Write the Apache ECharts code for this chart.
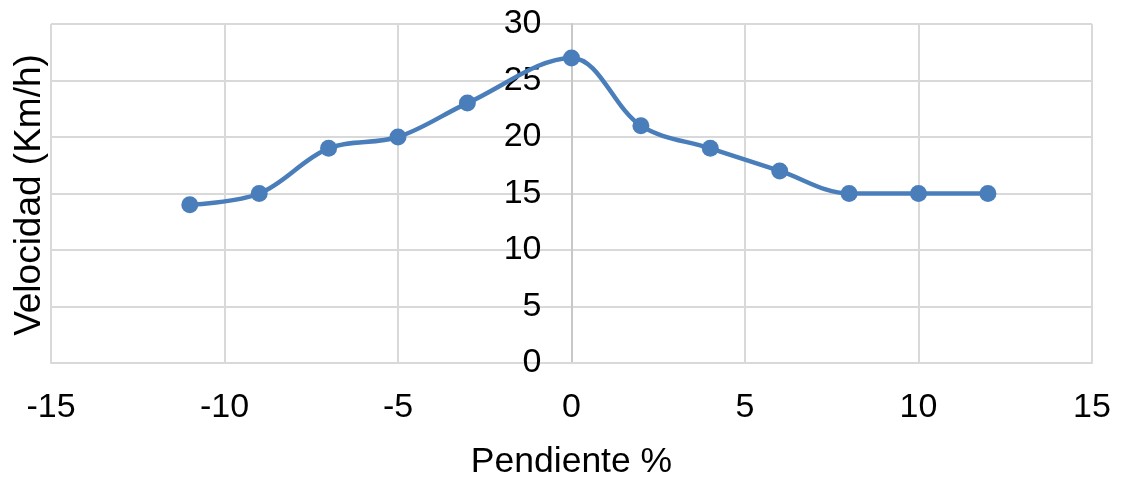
<!DOCTYPE html>
<html><head><meta charset="utf-8">
<script src="https://cdn.jsdelivr.net/npm/echarts@6/dist/echarts.min.js"></script>
<style>html,body{margin:0;padding:0;background:#fff}#c{width:1121px;height:482px}</style>
</head><body><div id="c"></div>
<script>
const pendiente = [-11, -9, -7, -5, -3, 0, 2, 4, 6, 8, 10, 12];
const velocidad = [14, 15, 19, 20, 23, 27, 21, 19, 17, 15, 15, 15];
const xTitle = 'Pendiente %';
const yTitle = 'Velocidad (Km/h)';

const W = 1121, L = 51, R = 29;
const xMin = -15, xMax = 15;
const x0 = L + (W - L - R) * (0 - xMin) / (xMax - xMin);

const chart = echarts.init(document.getElementById('c'));
const font = 'Liberation Sans, Arial, sans-serif';
chart.setOption({
  animation: false,
  grid: {left: L, right: R, top: 24, bottom: 119, containLabel: false, outerBoundsMode: 'none'},
  xAxis: {
    type: 'value', min: xMin, max: xMax, interval: 5,
    name: xTitle, nameLocation: 'middle', nameGap: 81,
    nameTextStyle: {fontFamily: font, fontSize: 35.5, color: '#000'},
    axisLine: {show: true, onZero: false, lineStyle: {color: '#d9d9d9', width: 2}},
    axisTick: {show: false},
    axisLabel: {fontFamily: font, fontSize: 34, color: '#000', margin: 28},
    splitLine: {show: true, lineStyle: {color: '#d9d9d9', width: 2}}
  },
  yAxis: {
    type: 'value', min: 0, max: 30, interval: 5,
    position: 'left', offset: -(x0 - L),
    axisLine: {show: true, onZero: false, lineStyle: {color: '#c8c8c8', width: 2}},
    axisTick: {show: false},
    axisLabel: {fontFamily: font, fontSize: 34, color: '#000', margin: 30},
    splitLine: {show: true, lineStyle: {color: '#d9d9d9', width: 2}}
  },
  graphic: [{
    type: 'text',
    x: 30, y: 195,
    rotation: Math.PI / 2,
    style: {text: yTitle, font: '37px ' + font, fill: '#000', textAlign: 'center', textVerticalAlign: 'middle'}
  }],
  series: [{
    type: 'line',
    data: pendiente.map((x, i) => [x, velocidad[i]]),
    smooth: 0.35,
    symbol: 'circle', symbolSize: 17,
    lineStyle: {color: '#4a7ebb', width: 4.5},
    itemStyle: {color: '#4a7ebb'}
  }]
});
</script></body></html>
